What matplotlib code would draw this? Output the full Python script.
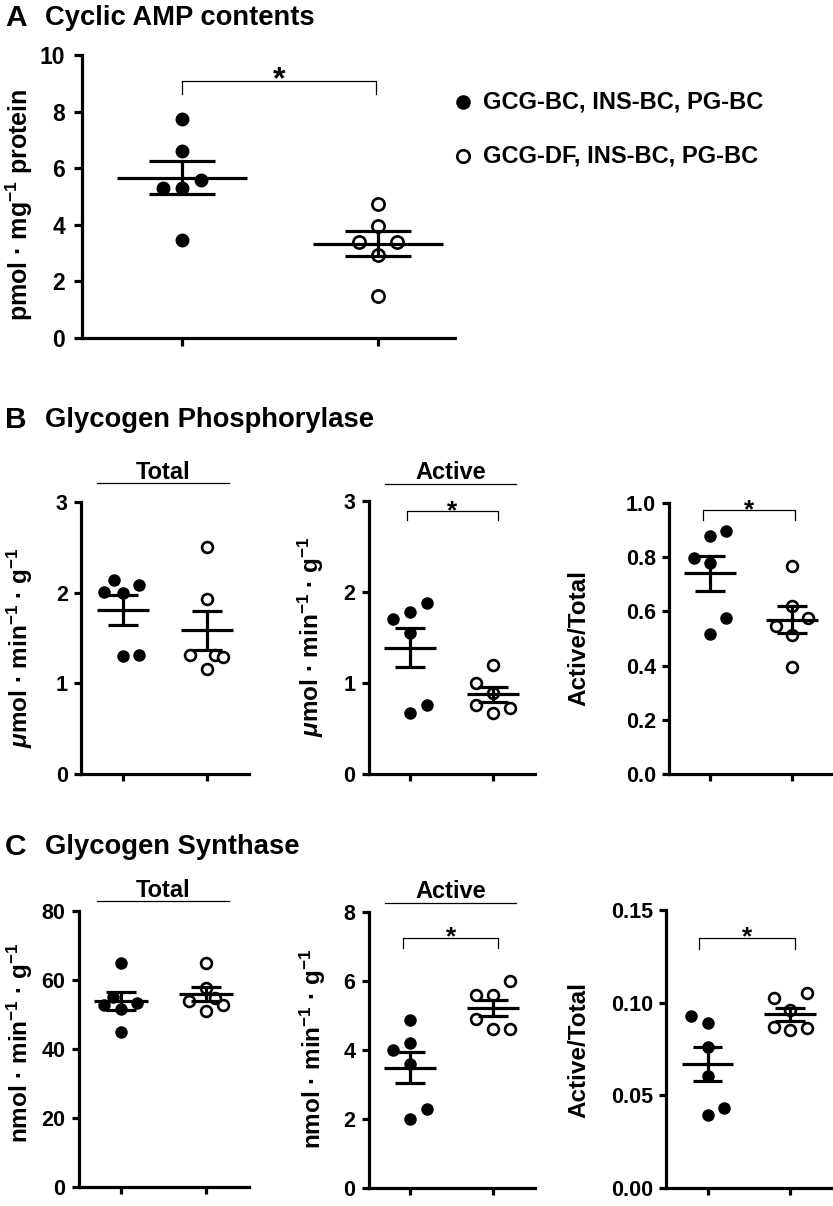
import numpy as np
import matplotlib
matplotlib.use('Agg')
import matplotlib.pyplot as plt
from matplotlib.lines import Line2D

plt.rcParams['font.family'] = ['Liberation Sans', 'DejaVu Sans']
plt.rcParams['font.weight'] = 'bold'
plt.rcParams['mathtext.fontset'] = 'custom'
plt.rcParams['mathtext.rm'] = 'Liberation Sans:bold'
plt.rcParams['mathtext.it'] = 'Liberation Sans:bold:italic'
plt.rcParams['mathtext.bf'] = 'Liberation Sans:bold'

W, H = 833, 1206

# ---- data ----
groups = ['GCG-BC, INS-BC, PG-BC', 'GCG-DF, INS-BC, PG-BC']

camp_bc = [7.75, 6.6, 5.6, 5.3, 5.3, 3.45]
camp_df = [4.75, 3.95, 3.4, 3.4, 2.95, 1.5]

gp_total_bc = [2.14, 2.01, 2.00, 2.09, 1.30, 1.31]
gp_total_df = [2.50, 1.93, 1.31, 1.31, 1.29, 1.16]
gp_active_bc = [1.70, 1.78, 1.88, 1.55, 0.67, 0.76]
gp_active_df = [1.20, 1.00, 0.89, 0.76, 0.73, 0.67]
gp_ratio_bc = [0.878, 0.898, 0.798, 0.777, 0.577, 0.517]
gp_ratio_df = [0.768, 0.620, 0.575, 0.546, 0.513, 0.396]

gs_total_bc = [65.0, 52.8, 55.2, 51.5, 53.4, 45.0]
gs_total_df = [65.0, 57.6, 54.0, 54.7, 52.8, 51.0]
gs_active_bc = [4.88, 4.20, 3.99, 3.60, 2.29, 1.99]
gs_active_df = [6.00, 5.60, 5.60, 4.90, 4.60, 4.60]
gs_ratio_bc = [0.0930, 0.0892, 0.0759, 0.0604, 0.0432, 0.0393]
gs_ratio_df = [0.1024, 0.1054, 0.0961, 0.0870, 0.0852, 0.0862]

# horizontal scatter slots (layout only)
jit_camp = ([0, 0, 1, -1, 0, 0], [0, 0, -1, 1, 0, 0])
jit_gp_total = ([-0.55, -1.15, 0, 0.95, 0, 0.95], [0, 0, -1, 0.5, 0.95, 0])
jit_gp_active = ([-1, 0, 1, 0, 0, 1], [0, -1, 0, -1, 1, 0])
jit_gp_ratio = ([0, 1, -1, 0, 1, 0], [0, 0, 1, -1, 0, 0])
jit_gs_total = ([0, -1, -0.5, 0, 0.95, 0], [0, 0, -1, 0.5, 1, 0])
jit_gs_active = ([0, 0, -1, 0, 1, 0], [1, -1, 0, -1, 0, 1])
jit_gs_ratio = ([-1, 0, 0, 0, 1, 0], [-1, 1, 0, -1, 0, 1])

fig = plt.figure(figsize=(W / 100, H / 100), dpi=100)


def fx(px):
    return px / W


def fy(py):
    return 1 - py / H


def make_axes(t1, t2, top, bottom, x0=0.5, x1=2.5):
    sep = t2 - t1
    left = t1 - (1 - x0) * sep
    right = t2 + (x1 - 2) * sep
    ax = fig.add_axes([fx(left), fy(bottom), (right - left) / W, (bottom - top) / H])
    ax.set_xlim(x0, x1)
    for s in ['top', 'right']:
        ax.spines[s].set_visible(False)
    for s in ['left', 'bottom']:
        ax.spines[s].set_linewidth(2.3)
    ax.set_xticks([1, 2])
    ax.set_xticklabels(['', ''])
    ax.tick_params(width=2.3, length=5, pad=4.5)
    return ax


def dots(ax, bc, df, jit, step, ms, mhalf=0.33, chalf=0.175):
    for k, vals in enumerate([bc, df]):
        xc = k + 1
        x = xc + np.array(jit[k]) * step
        if k == 0:
            ax.plot(x, vals, 'o', ls='none', ms=ms, mfc='k', mec='k', mew=0, zorder=3, clip_on=False)
        else:
            ax.plot(x, vals, 'o', ls='none', ms=ms - 1.2, mfc='white', mec='k', mew=1.9, zorder=3, clip_on=False)
        m = np.mean(vals)
        sem = np.std(vals, ddof=1) / np.sqrt(len(vals))
        ax.plot([xc - mhalf, xc + mhalf], [m, m], color='k', lw=2.3, zorder=4, solid_capstyle='butt')
        ax.plot([xc, xc], [m - sem, m + sem], color='k', lw=2.3, zorder=4, solid_capstyle='butt')
        for yv in (m - sem, m + sem):
            ax.plot([xc - chalf, xc + chalf], [yv, yv], color='k', lw=2.3, zorder=4, solid_capstyle='butt')


def bracket(ax, xa, xb, ytop, ybot, fs):
    ax.plot([xa, xa, xb, xb], [ybot, ytop, ytop, ybot], color='k', lw=0.9, clip_on=False)
    ax.annotate('*', xy=((xa + xb) / 2, ytop), xytext=(0, -5), textcoords='offset points',
                ha='center', va='baseline', fontsize=fs, fontweight='bold')


def header(text, xl, xr, yline, ybase):
    fig.add_artist(Line2D([fx(xl), fx(xr)], [fy(yline), fy(yline)], color='k', lw=0.9))
    fig.text(fx((xl + xr) / 2), fy(ybase), text, ha='center', va='baseline', fontsize=17, fontweight='bold')


def ylab(text, x, y, fs=17.5):
    fig.text(fx(x), fy(y), text, rotation=90, ha='center', va='center', fontsize=fs, fontweight='bold')


umol = r'$\mu$mol · min$^{-1}$ · g$^{-1}$'
nmol = r'nmol · min$^{-1}$ · g$^{-1}$'

# ---- A: cyclic AMP ----
fig.text(fx(5), fy(18), 'A', fontsize=21.5, fontweight='bold', va='center', ha='left')
fig.text(fx(45), fy(18), 'Cyclic AMP contents', fontsize=19.7, fontweight='bold', va='center', ha='left')
axA = make_axes(182, 378, 55, 338, 0.49, 2.393)
dots(axA, camp_bc, camp_df, jit_camp, 0.097, 10.0, 0.33, 0.17)
axA.set_ylim(0, 10)
axA.set_yticks(range(0, 11, 2))
axA.tick_params(labelsize=16.5, pad=6, length=6)
bracket(axA, 1.0, 1.99, 9.08, 8.62, 23)
ylab(r'pmol · mg$^{-1}$ protein', 19, 205, 18)

fig.add_artist(Line2D([fx(463)], [fy(102)], marker='o', ms=10.5, mfc='k', mec='k', mew=0, ls='none'))
fig.add_artist(Line2D([fx(463)], [fy(156)], marker='o', ms=9.0, mfc='white', mec='k', mew=1.9, ls='none'))
fig.text(fx(483), fy(102), groups[0], fontsize=17, fontweight='bold', va='center', ha='left')
fig.text(fx(483), fy(156), groups[1], fontsize=17, fontweight='bold', va='center', ha='left')

# ---- B: glycogen phosphorylase ----
fig.text(fx(5), fy(420), 'B', fontsize=21.5, fontweight='bold', va='center', ha='left')
fig.text(fx(45), fy(420), 'Glycogen Phosphorylase', fontsize=19.7, fontweight='bold', va='center', ha='left')

axB1 = make_axes(123, 207, 502, 774)
dots(axB1, gp_total_bc, gp_total_df, jit_gp_total, 0.2, 9.0, 0.315, 0.18)
axB1.set_ylim(0, 3)
axB1.set_yticks([0, 1, 2, 3])
axB1.tick_params(labelsize=15.5)
header('Total', 97, 229, 483, 479)
ylab(umol, 20, 648)

axB2 = make_axes(410, 493, 501, 774)
dots(axB2, gp_active_bc, gp_active_df, jit_gp_active, 0.2, 9.0, 0.315, 0.18)
axB2.set_ylim(0, 3)
axB2.set_yticks([0, 1, 2, 3])
axB2.tick_params(labelsize=15.5)
header('Active', 385, 516, 484, 479)
bracket(axB2, 0.96, 2.06, 2.89, 2.79, 19)
ylab(umol, 311, 637)

axB3 = make_axes(710, 792, 503, 774)
dots(axB3, gp_ratio_bc, gp_ratio_df, jit_gp_ratio, 0.2, 9.0, 0.315, 0.18)
axB3.set_ylim(0, 1.0)
axB3.set_yticks([0, 0.2, 0.4, 0.6, 0.8, 1.0])
axB3.set_yticklabels(['0.0', '0.2', '0.4', '0.6', '0.8', '1.0'])
axB3.tick_params(labelsize=15.5)
bracket(axB3, 0.915, 2.04, 0.974, 0.937, 19)
ylab('Active/Total', 579, 638)

# ---- C: glycogen synthase ----
fig.text(fx(5), fy(847), 'C', fontsize=21.5, fontweight='bold', va='center', ha='left')
fig.text(fx(45), fy(847), 'Glycogen Synthase', fontsize=19.7, fontweight='bold', va='center', ha='left')

axC1 = make_axes(121, 206, 911, 1187)
dots(axC1, gs_total_bc, gs_total_df, jit_gs_total, 0.2, 9.0, 0.315, 0.18)
axC1.set_ylim(0, 80)
axC1.set_yticks(range(0, 81, 20))
axC1.tick_params(labelsize=15.5)
header('Total', 97, 229, 901, 897)
ylab(nmol, 20, 1043)

axC2 = make_axes(410, 493, 912, 1188)
dots(axC2, gs_active_bc, gs_active_df, jit_gs_active, 0.2, 9.0, 0.315, 0.18)
axC2.set_ylim(0, 8)
axC2.set_yticks(range(0, 9, 2))
axC2.tick_params(labelsize=15.5)
header('Active', 385, 516, 903, 898)
bracket(axC2, 0.92, 2.06, 7.26, 6.96, 19)
ylab(nmol, 313, 1049)

axC3 = make_axes(707.5, 790, 910, 1188)
dots(axC3, gs_ratio_bc, gs_ratio_df, jit_gs_ratio, 0.2, 9.0, 0.315, 0.18)
axC3.set_ylim(0, 0.15)
axC3.set_yticks([0, 0.05, 0.10, 0.15])
axC3.set_yticklabels(['0.00', '0.05', '0.10', '0.15'])
axC3.tick_params(labelsize=15.5)
bracket(axC3, 0.90, 2.06, 0.135, 0.129, 19)
ylab('Active/Total', 579, 1050)

fig.savefig('out.png', dpi=100)
